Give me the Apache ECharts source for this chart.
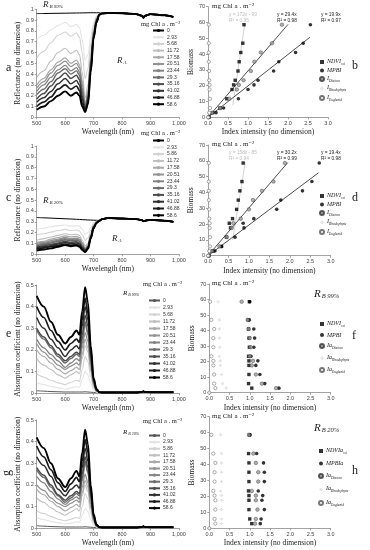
<!DOCTYPE html>
<html><head><meta charset="utf-8">
<script src="https://cdn.jsdelivr.net/npm/echarts/dist/echarts.min.js"></script>
<style>html,body{margin:0;padding:0;background:#fff}#c{width:370px;height:550px}</style>
</head><body><div id="c"></div>
<script>
// ---------- DATA ----------
const WL_VIS = [500,525,550,575,600,620,640,650,660,670,680,690,700,710,720];
const WL_NIR = [730,750,800,850,870,875,880,900,950,980];
const CONC_A = ['0','2.93','5.68','11.72','17.58','20.51','23.44','29.3','35.16','41.02','46.88','58.6'];
const CONC_C = ['0','2.93','5.86','11.72','17.58','20.51','23.44','29.3','35.16','41.02','46.88','58.6'];

// panel a: reflectance, R_B 99%
const REFL_A_VIS = [
 [0.960,0.961,0.962,0.963,0.964,0.965,0.966,0.966,0.967,0.967,0.968,0.968,0.968,0.968,0.968],
 [0.72,0.76,0.81,0.85,0.88,0.84,0.86,0.83,0.72,0.53,0.58,0.75,0.88,0.94,0.955],
 [0.55,0.61,0.69,0.76,0.79,0.75,0.78,0.74,0.60,0.36,0.45,0.68,0.85,0.93,0.955],
 [0.37,0.43,0.52,0.60,0.64,0.59,0.62,0.58,0.42,0.18,0.30,0.60,0.82,0.92,0.95],
 [0.30,0.36,0.44,0.51,0.55,0.50,0.53,0.49,0.34,0.12,0.25,0.56,0.80,0.91,0.95],
 [0.27,0.33,0.41,0.48,0.52,0.47,0.50,0.46,0.31,0.10,0.23,0.54,0.79,0.91,0.95],
 [0.24,0.30,0.37,0.44,0.48,0.43,0.46,0.42,0.27,0.09,0.21,0.52,0.78,0.90,0.95],
 [0.21,0.26,0.33,0.41,0.45,0.40,0.43,0.39,0.24,0.08,0.19,0.50,0.77,0.90,0.95],
 [0.17,0.22,0.29,0.36,0.41,0.36,0.39,0.35,0.20,0.07,0.17,0.48,0.76,0.89,0.95],
 [0.14,0.18,0.24,0.31,0.36,0.31,0.34,0.30,0.17,0.06,0.15,0.46,0.75,0.89,0.95],
 [0.10,0.14,0.19,0.26,0.30,0.26,0.29,0.25,0.13,0.05,0.13,0.44,0.74,0.88,0.95],
 [0.07,0.10,0.15,0.20,0.24,0.20,0.23,0.20,0.10,0.05,0.12,0.42,0.73,0.88,0.95]
];
const REFL_A_NIR = [0.962,0.966,0.964,0.955,0.94,0.922,0.94,0.955,0.945,0.93];

// panel c: reflectance, R_B 20%
const REFL_C_VIS = [
 [0.340,0.337,0.334,0.331,0.328,0.326,0.323,0.322,0.320,0.319,0.317,0.316,0.315,0.314,0.313],
 [0.23,0.24,0.255,0.265,0.27,0.26,0.265,0.26,0.23,0.185,0.20,0.25,0.29,0.305,0.31],
 [0.18,0.19,0.205,0.22,0.23,0.22,0.225,0.215,0.18,0.13,0.15,0.22,0.28,0.30,0.31],
 [0.13,0.145,0.16,0.175,0.19,0.18,0.185,0.175,0.13,0.08,0.10,0.19,0.27,0.30,0.31],
 [0.11,0.12,0.14,0.155,0.17,0.16,0.165,0.155,0.11,0.06,0.09,0.18,0.265,0.30,0.31],
 [0.10,0.11,0.125,0.14,0.155,0.145,0.15,0.14,0.10,0.05,0.08,0.175,0.26,0.295,0.31],
 [0.09,0.10,0.115,0.13,0.145,0.135,0.14,0.13,0.09,0.045,0.075,0.17,0.26,0.295,0.31],
 [0.08,0.09,0.105,0.12,0.135,0.125,0.13,0.12,0.08,0.04,0.07,0.165,0.255,0.295,0.31],
 [0.07,0.08,0.09,0.105,0.12,0.11,0.115,0.105,0.07,0.035,0.065,0.16,0.25,0.29,0.31],
 [0.06,0.07,0.08,0.095,0.11,0.10,0.105,0.095,0.06,0.03,0.06,0.155,0.25,0.29,0.31],
 [0.05,0.06,0.07,0.08,0.095,0.085,0.09,0.08,0.05,0.025,0.055,0.15,0.245,0.29,0.31],
 [0.035,0.045,0.055,0.07,0.085,0.075,0.08,0.07,0.04,0.02,0.05,0.145,0.24,0.29,0.31]
];
const REFL_C_NIR = [0.325,0.335,0.33,0.325,0.315,0.305,0.31,0.318,0.31,0.30];

// panel e: absorption, R_B 99%
const ABS_E_VIS = [
 [0.012,0.01,0.008,0.007,0.006,0.006,0.006,0.006,0.006,0.007,0.006,0.005,0.004,0.003,0.003],
 [0.05,0.04,0.032,0.025,0.02,0.025,0.03,0.028,0.065,0.10,0.085,0.045,0.015,0.005,0.003],
 [0.09,0.075,0.06,0.048,0.04,0.05,0.06,0.055,0.11,0.17,0.145,0.077,0.026,0.007,0.004],
 [0.16,0.13,0.11,0.085,0.07,0.085,0.10,0.09,0.16,0.22,0.19,0.10,0.033,0.009,0.004],
 [0.20,0.17,0.14,0.11,0.09,0.105,0.12,0.11,0.18,0.25,0.21,0.11,0.038,0.01,0.005],
 [0.23,0.19,0.16,0.13,0.11,0.125,0.14,0.13,0.21,0.28,0.24,0.13,0.042,0.011,0.005],
 [0.25,0.21,0.18,0.15,0.12,0.14,0.16,0.15,0.23,0.32,0.27,0.14,0.048,0.013,0.005],
 [0.29,0.25,0.21,0.17,0.14,0.16,0.18,0.17,0.25,0.33,0.28,0.15,0.05,0.013,0.005],
 [0.30,0.26,0.22,0.18,0.15,0.17,0.19,0.18,0.27,0.36,0.31,0.16,0.054,0.014,0.005],
 [0.35,0.30,0.25,0.21,0.17,0.20,0.22,0.205,0.31,0.40,0.34,0.18,0.06,0.016,0.005],
 [0.40,0.35,0.29,0.24,0.20,0.23,0.25,0.235,0.34,0.44,0.37,0.20,0.066,0.018,0.005],
 [0.45,0.40,0.33,0.27,0.23,0.26,0.29,0.27,0.38,0.49,0.42,0.22,0.07,0.02,0.005]
];
const ABS_E_NIR = [0.004,0.004,0.004,0.004,0.006,0.009,0.006,0.005,0.005,0.005];

// panel g: absorption, R_B 20%
const ABS_G_VIS = [
 [0.012,0.01,0.008,0.007,0.006,0.006,0.006,0.006,0.006,0.007,0.006,0.005,0.004,0.003,0.003],
 [0.05,0.04,0.032,0.025,0.02,0.024,0.03,0.027,0.06,0.09,0.077,0.04,0.014,0.005,0.003],
 [0.08,0.068,0.055,0.042,0.035,0.042,0.05,0.046,0.10,0.16,0.135,0.07,0.024,0.007,0.004],
 [0.14,0.12,0.095,0.075,0.06,0.075,0.09,0.08,0.15,0.20,0.17,0.09,0.03,0.008,0.004],
 [0.18,0.155,0.125,0.10,0.08,0.095,0.11,0.10,0.165,0.22,0.19,0.10,0.034,0.009,0.004],
 [0.20,0.175,0.14,0.115,0.10,0.115,0.13,0.12,0.19,0.25,0.21,0.11,0.038,0.01,0.005],
 [0.24,0.21,0.17,0.135,0.11,0.13,0.145,0.135,0.22,0.30,0.255,0.135,0.044,0.012,0.005],
 [0.27,0.235,0.19,0.15,0.12,0.14,0.16,0.15,0.23,0.31,0.26,0.14,0.046,0.012,0.005],
 [0.28,0.245,0.20,0.155,0.13,0.15,0.17,0.16,0.25,0.33,0.28,0.15,0.05,0.013,0.005],
 [0.33,0.29,0.24,0.18,0.15,0.18,0.20,0.185,0.28,0.37,0.31,0.165,0.054,0.015,0.005],
 [0.38,0.33,0.27,0.21,0.17,0.205,0.235,0.215,0.31,0.41,0.35,0.18,0.06,0.016,0.005],
 [0.42,0.37,0.30,0.23,0.19,0.23,0.265,0.24,0.35,0.455,0.39,0.20,0.065,0.018,0.005]
];
const ABS_G_NIR = [0.004,0.004,0.004,0.004,0.006,0.009,0.006,0.005,0.005,0.005];

// scatter panels: biomass (y) and index intensities (x)
const BIOMASS = [0,2.93,5.86,11.72,17.58,20.51,23.44,29.3,35.16,41.02,46.88,58.6];
const B_NDVI = [0.02,0.12,0.30,0.47,0.60,0.64,0.68,0.75,0.78,0.82,0.87,0.90];
const B_MPBI = [0.02,0.20,0.39,0.76,1.00,1.15,1.25,1.64,1.77,2.19,2.38,2.56];
const B_DIAT = [0.02,0.10,0.30,0.53,0.72,0.77,0.89,1.07,1.16,1.32,1.60,1.85];
const B_RHOD = [0.01,0.02,0.02,0.03,0.03,0.03,0.03,0.02,0.02,0.02,0.02,0.02];
const B_EUGL = [0.00,0.03,0.05,0.05,0.04,0.04,0.03,0.03,0.02,0.02,0.02,0.02];
const D_NDVI = [0.02,0.12,0.33,0.45,0.55,0.52,0.60,0.70,0.74,0.78,0.83,0.86];
const D_MPBI = [0.02,0.17,0.33,0.66,0.88,0.86,1.12,1.68,1.78,2.31,2.54,2.72];
const D_DIAT = [0.02,0.10,0.28,0.46,0.58,0.62,0.80,1.00,1.10,1.32,1.60,1.88];
const D_RHOD = [0.01,0.02,0.02,0.03,0.03,0.03,0.03,0.02,0.02,0.02,0.02,0.02];
const D_EUGL = [0.00,0.03,0.05,0.05,0.04,0.04,0.03,0.03,0.02,0.02,0.02,0.02];
const F_NDVI = [null,1.05,0.97,0.98,0.98,0.98,0.97,0.99,0.98,0.97,0.96,0.99];
const F_MPBI = [null,1.72,1.37,1.25,1.15,1.20,1.03,1.10,1.12,1.10,0.99,1.00];
const F_DIAT = [null,1.65,1.30,1.15,1.05,1.08,1.00,1.02,1.00,0.97,0.95,0.80];
const F_RHOD = [null,0.42,0.33,0.30,0.27,0.27,0.25,0.26,0.25,0.25,0.25,0.22];
const F_EUGL = [0.00,0.15,0.12,0.12,0.10,0.10,0.05,0.10,0.10,0.12,0.05,0.02];
const H_NDVI = [null,1.05,1.00,0.98,0.98,0.98,0.97,0.98,0.98,0.98,0.97,0.99];
const H_MPBI = [null,1.26,1.28,1.36,1.30,1.32,1.21,1.36,1.36,1.34,1.17,1.01];
const H_DIAT = [null,1.13,1.15,1.19,1.15,1.15,1.05,1.21,1.21,1.15,1.09,0.98];
const H_RHOD = [null,0.30,0.30,0.30,0.30,0.30,0.28,0.30,0.30,0.30,0.30,0.28];
const H_EUGL = [0.00,0.15,0.13,0.15,0.15,0.13,0.10,0.13,0.13,0.15,0.10,0.05];
// trend lines (x,y end points as read)
const TREND_B_NDVI = [[0.62,7.6],[0.92,59.2]];
const TREND_B_MPBI = [[0,0],[2.55,50.7]];
const TREND_B_DIAT = [[0,0],[2.0,58.8]];
const TREND_D_NDVI = [[0.60,9.8],[0.91,58.8]];
const TREND_D_MPBI = [[0,0],[2.7,52.4]];
const TREND_D_DIAT = [[0,0],[1.95,58.9]];
const EQ_B = [['y = 172x - 99','R² = 0.95'],['y = 29.4x','R² = 0.98'],['y = 19.9x','R² = 0.97']];
const EQ_D = [['y = 158x - 85','R² = 0.94'],['y = 30.2x','R² = 0.99'],['y = 19.4x','R² = 0.98']];

// ---------- STYLE ----------
const SPEC_COLORS = ['#000','#e4e4e4','#d2d2d2','#bebebe','#a8a8a8','#939393','#838383','#6c6c6c','#4c4c4c','#2f2f2f','#1b1b1b','#000'];
const SPEC_WIDTHS = [1,1.1,1.1,1.1,1.2,1.3,1.3,1.4,1.5,1.5,1.7,1.9];
const SERIF = '"Liberation Serif","DejaVu Serif",serif';
const SANS = '"Liberation Sans",Arial,sans-serif';
const AX = '#8a8a8a';

const grids = [
 {left:36.7, top:9.3, width:142.3, height:108},
 {left:208, top:6.7, width:120, height:110.6},
 {left:36.7, top:146, width:142.3, height:108.3},
 {left:208, top:145, width:122.7, height:110.7},
 {left:36.7, top:285, width:142.3, height:108.3},
 {left:209.3, top:284, width:121.4, height:108.7},
 {left:36.7, top:420, width:142.3, height:108.3},
 {left:209.3, top:416.7, width:121.4, height:111.6}
];
function baseAxis(){
  return {axisLine:{lineStyle:{color:AX,width:0.8}}, axisTick:{length:2,lineStyle:{color:AX,width:0.8}},
    splitLine:{show:false}, axisLabel:{fontSize:5.5,color:'#444',fontFamily:SANS,margin:3},
    nameLocation:'middle', nameTextStyle:{fontFamily:SERIF,fontSize:7.5,color:'#222'}};
}
const xAxes = [], yAxes = [];
grids.forEach((g,i)=>{
  const spec = (i%2===0);
  const xa = Object.assign(baseAxis(), {gridIndex:i, type:'value'});
  const ya = Object.assign(baseAxis(), {gridIndex:i, type:'value'});
  if (spec) {
    Object.assign(xa,{min:500,max:1000,interval:100,name:'Wavelength (nm)',nameGap:11});
    const refl = (i===0||i===2);
    Object.assign(ya,{min:0,max:refl?1:0.5,interval:0.1,
      name: refl?'Reflectance (no dimension)':'Absorption coefficient (no dimension)', nameGap:13});
  } else {
    Object.assign(xa,{min:0,max:3,interval:0.5,name:'Index intensity (no dimension)',nameGap:11});
    xa.axisLabel = Object.assign({}, xa.axisLabel, {formatter:v=>v.toFixed(1)});
    Object.assign(ya,{min:0,max:70,interval:10,name:'Biomass',nameGap:11});
  }
  xAxes.push(xa); yAxes.push(ya);
});

const series = [];
function addSpec(panel, gi, labels, vis, nir, zeroColor){
  labels.forEach((lab,k)=>{
    series.push({name:panel+'_'+lab, type:'line', xAxisIndex:gi, yAxisIndex:gi, symbol:'none',
      smooth:0.35, smoothMonotone:'x', silent:true,
      lineStyle:{color:(k===0&&zeroColor)?zeroColor:SPEC_COLORS[k], width:SPEC_WIDTHS[k]},
      itemStyle:{color:(k===0&&zeroColor)?zeroColor:SPEC_COLORS[k]},
      data: WL_VIS.map((w,i)=>[w,vis[k][i]]).concat(WL_NIR.map((w,i)=>[w,nir[i]]))});
  });
}
addSpec('a',0,CONC_A,REFL_A_VIS,REFL_A_NIR,null);
addSpec('c',2,CONC_C,REFL_C_VIS,REFL_C_NIR,null);
addSpec('e',4,CONC_A,ABS_E_VIS,ABS_E_NIR,'#555');
addSpec('g',6,CONC_C,ABS_G_VIS,ABS_G_NIR,'#555');

const SCAT_STYLE = {
  ndvi:{symbol:'rect',symbolSize:3.4,itemStyle:{color:'#000'}},
  mpbi:{symbol:'circle',symbolSize:3.6,itemStyle:{color:'#000'}},
  diat:{symbol:'circle',symbolSize:3.6,itemStyle:{color:'#9a9a9a',borderColor:'#333',borderWidth:0.5}},
  rhod:{symbol:'diamond',symbolSize:3.6,itemStyle:{color:'#dcdcdc'}},
  eugl:{symbol:'circle',symbolSize:3.3,itemStyle:{color:'#fff',borderColor:'#555',borderWidth:0.6}}
};
function addScatter(panel, gi, sets){
  Object.keys(sets).forEach(k=>{
    const xs = sets[k];
    const data = [];
    xs.forEach((x,i)=>{ if (x!==null) data.push([x,BIOMASS[i]]); });
    series.push(Object.assign({name:panel+'_'+k, type:'scatter', xAxisIndex:gi, yAxisIndex:gi, data, z:3}, SCAT_STYLE[k]));
  });
}
function addTrend(gi, pts, color){
  series.push({type:'line', xAxisIndex:gi, yAxisIndex:gi, data:pts, symbol:'none', silent:true, z:2,
    lineStyle:{color, width:0.8}});
}
addTrend(1,TREND_B_NDVI,'#c8c8c8'); addTrend(1,TREND_B_MPBI,'#222'); addTrend(1,TREND_B_DIAT,'#222');
addTrend(3,TREND_D_NDVI,'#c8c8c8'); addTrend(3,TREND_D_MPBI,'#222'); addTrend(3,TREND_D_DIAT,'#222');
addScatter('b',1,{ndvi:B_NDVI,mpbi:B_MPBI,diat:B_DIAT,rhod:B_RHOD,eugl:B_EUGL});
addScatter('d',3,{ndvi:D_NDVI,mpbi:D_MPBI,diat:D_DIAT,rhod:D_RHOD,eugl:D_EUGL});
addScatter('f',5,{ndvi:F_NDVI,mpbi:F_MPBI,diat:F_DIAT,rhod:F_RHOD,eugl:F_EUGL});
addScatter('h',7,{ndvi:H_NDVI,mpbi:H_MPBI,diat:H_DIAT,rhod:H_RHOD,eugl:H_EUGL});

// ---------- LEGENDS ----------
function specLegend(panel, labels, left, top, gap){
  return {orient:'vertical', left, top, itemWidth:11, itemHeight:4, itemGap:gap, padding:0,
    data: labels.map(l=>panel+'_'+l), selectedMode:false,
    formatter: n=>n.split('_')[1],
    textStyle:{fontSize:5, lineHeight:5, fontFamily:SANS, color:'#333', padding:[0,0,0,-2]}};
}
const LEG_TXT = {
  b:{ndvi:'{m|NDVI}{s|ssi}',mpbi:'{m|MPBI}',diat:'{m|I}{s|Diatom}',rhod:'{m|I}{s|Rhodophyta}',eugl:'{m|I}{s|Euglenid}'},
  f:{ndvi:'{m|NDVI}{s|ssi}',mpbi:'{m|MPBI}',diat:'{m|Ia}{s|Diatom}',rhod:'{m|Ia}{s|Rhodophyta}',eugl:'{m|Ia}{s|Euglenid}'},
  h:{ndvi:'{m|NDVIa}{s|ssi}',mpbi:'{m|MPBIa}',diat:'{m|Ia}{s|Diatom}',rhod:'{m|Ia}{s|Rhodophyta}',eugl:'{m|Ia}{s|Euglenid}'}
};
LEG_TXT.d = LEG_TXT.b;
function scatLegend(panel, left, top, gap){
  return {orient:'vertical', left, top, itemWidth:4, itemHeight:4, itemGap:gap, padding:0, selectedMode:false,
    data:['ndvi','mpbi','diat','rhod','eugl'].map(k=>panel+'_'+k),
    formatter: n=>{const p=n.split('_'); return LEG_TXT[p[0]][p[1]];},
    textStyle:{padding:[0,0,0,-2], rich:{
      m:{fontFamily:SERIF,fontStyle:'italic',fontSize:6,color:'#222',lineHeight:6,verticalAlign:'top'},
      s:{fontFamily:SERIF,fontStyle:'italic',fontSize:3.6,color:'#222',lineHeight:8,verticalAlign:'bottom'}}}};
}
const legends = [
  specLegend('a',CONC_A,152,28,1.7), specLegend('c',CONC_C,152,138,1.8),
  specLegend('e',CONC_A,148,298,2), specLegend('g',CONC_C,148,433,1.6),
  scatLegend('b',319,58,1.5), scatLegend('d',319,192,1.5),
  scatLegend('f',319,320,4), scatLegend('h',318,447,5.5)
];

// ---------- TEXT ----------
const RICH_R = {r:{fontFamily:SERIF,fontStyle:'italic',fontSize:9,color:'#222'}, s:{fontFamily:SERIF,fontStyle:'italic',fontSize:5,color:'#222',padding:[4,0,0,1]}};
const RICH_R_BIG = {r:{fontFamily:SERIF,fontStyle:'italic',fontSize:11,color:'#222'}, s:{fontFamily:SERIF,fontStyle:'italic',fontSize:6.5,color:'#222',padding:[5,0,0,1]}};
const RICH_R_SMALL = {r:{fontFamily:SERIF,fontStyle:'italic',fontSize:7,color:'#222'},s:{fontFamily:SERIF,fontStyle:'italic',fontSize:4,color:'#222',padding:[3,0,0,1]}};
function txt(x,y,text,opt){ return {type:'text', x, y, z:10, silent:true, style:Object.assign({text, fill:'#222', font:'7px '+SERIF}, opt||{})}; }
const graphics = [
  txt(43,0,'{r|R}{s|B 99%}',{rich:RICH_R}),
  txt(117,56,'{r|R}{s|A}',{rich:RICH_R}),
  txt(43,196,'{r|R}{s|B 20%}',{rich:RICH_R}),
  txt(112,234,'{r|R}{s|A}',{rich:RICH_R}),
  txt(123,290,'{r|R}{s|B 99%}',{rich:RICH_R_SMALL}),
  txt(123,429,'{r|R}{s|B 20%}',{rich:RICH_R_SMALL}),
  txt(314,288,'{r|R}{s|B 99%}',{rich:RICH_R_BIG}),
  txt(314,422,'{r|R}{s|B 20%}',{rich:RICH_R_BIG}),
  txt(141,21,'mg Chl a . m⁻²',{font:'6.5px '+SERIF}),
  txt(141,130,'mg Chl a . m⁻²',{font:'6.5px '+SERIF}),
  txt(143,281,'mg Chl a . m⁻²',{font:'6.5px '+SERIF}),
  txt(143,418,'mg Chl a . m⁻²',{font:'6.5px '+SERIF}),
  txt(212,3,'mg Chl a . m⁻²',{font:'7px '+SERIF}),
  txt(212,141,'mg Chl a . m⁻²',{font:'7px '+SERIF}),
  txt(212,280,'mg Chl a . m⁻²',{font:'7px '+SERIF}),
  txt(212,413,'mg Chl a . m⁻²',{font:'7px '+SERIF}),
  txt(6,62,'a',{font:'12px '+SERIF}),
  txt(352,60,'b',{font:'12px '+SERIF}),
  txt(6,192,'c',{font:'12px '+SERIF}),
  txt(352,192,'d',{font:'12px '+SERIF}),
  txt(6,328,'e',{font:'12px '+SERIF}),
  txt(352,330,'f',{font:'12px '+SERIF}),
  Object.assign(txt(4,467,'g',{font:'12px '+SERIF}),{rotation:Math.PI/2, originX:3,originY:6}),
  txt(352,465,'h',{font:'12px '+SERIF})
];
[[EQ_B,12],[EQ_D,150]].forEach(([eqs,y0])=>{
  const xs=[229,277,321];
  eqs.forEach((e,i)=>{
    const col = i===0?'#bdbdbd':'#222';
    graphics.push(txt(xs[i],y0,e[0],{font:'4.8px '+SANS,fill:col}));
    graphics.push(txt(xs[i],y0+6,e[1],{font:'4.8px '+SANS,fill:col}));
  });
});

const chart = echarts.init(document.getElementById('c'), null, {renderer:'canvas'});
chart.setOption({animation:false, backgroundColor:'#fff', grid:grids, xAxis:xAxes, yAxis:yAxes,
  series, legend:legends, graphic:graphics, tooltip:{show:false}});
</script></body></html>
